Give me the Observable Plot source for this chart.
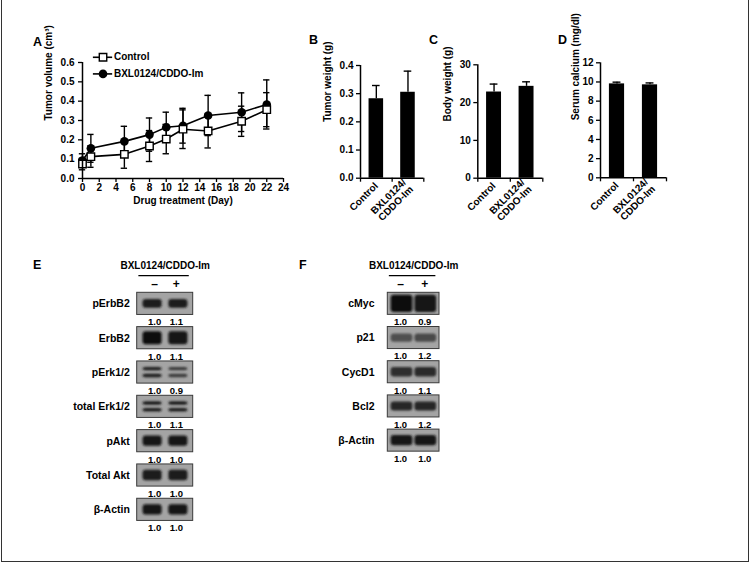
<!DOCTYPE html>
<html><head><meta charset="utf-8">
<script src="https://cdn.jsdelivr.net/npm/d3@7"></script>
<script src="https://cdn.jsdelivr.net/npm/@observablehq/plot@0.6"></script>
<style>
body{margin:0;background:#fff;}
#fig{position:relative;width:750px;height:563px;overflow:hidden;font-family:"Liberation Sans",Arial,sans-serif;font-weight:bold;color:#000;}
#frame{position:absolute;left:1px;top:0;width:748px;height:562px;box-sizing:border-box;border:1px solid #333;border-top:none;}
.panel{position:absolute;}
.letter{position:absolute;font-size:12.5px;line-height:12px;font-weight:bold;}
</style></head><body>
<div id="fig"><div id="frame"></div></div>
<script>
// ---------- data ----------
const days = [0, 1, 5, 8, 10, 12, 15, 19, 22];
const controlVol = [0.075, 0.113, 0.125, 0.168, 0.204, 0.255, 0.246, 0.296, 0.356];
const controlErr = [0.03, 0.055, 0.072, 0.08, 0.076, 0.1, 0.088, 0.078, 0.088];
const treatVol   = [0.093, 0.156, 0.192, 0.227, 0.265, 0.273, 0.326, 0.343, 0.383];
const treatErr   = [0.035, 0.072, 0.078, 0.086, 0.078, 0.09, 0.104, 0.1, 0.127];
const seriesNames = ["Control", "BXL0124/CDDO-Im"];
const volTicks = [0, 0.1, 0.2, 0.3, 0.4, 0.5, 0.6];
const dayTicks = [0, 2, 4, 6, 8, 10, 12, 14, 16, 18, 20, 22, 24];

const groups = ["Control", "BXL0124/\nCDDO-Im"];
const tumorWeight = [0.282, 0.305];
const tumorWeightErr = [0.047, 0.075];
const bodyWeight = [22.8, 24.3];
const bodyWeightErr = [2.1, 1.2];
const serumCalcium = [9.8, 9.7];
const serumCalciumErr = [0.18, 0.2];
const tumorTicks = [0, 0.1, 0.2, 0.3, 0.4];
const bodyTicks = [0, 10, 20, 30];
const calciumTicks = [0, 2, 4, 6, 8, 10, 12];

const treatmentTitle = "BXL0124/CDDO-Im";
const lanes = ["–", "+"];
const blotE = ["pErbB2", "ErbB2", "pErk1/2", "total Erk1/2", "pAkt", "Total Akt", "β-Actin"];
const ratioE = [[1.0, 1.1], [1.0, 1.1], [1.0, 0.9], [1.0, 1.1], [1.0, 1.0], [1.0, 1.0], [1.0, 1.0]];
const blotF = ["cMyc", "p21", "CycD1", "Bcl2", "β-Actin"];
const ratioF = [[1.0, 0.9], [1.0, 1.2], [1.0, 1.1], [1.0, 1.2], [1.0, 1.0]];

// ---------- band appearance (style only) ----------
const lookE = [
  {h: 0.26, fill: ["#1c1c1c", "#1c1c1c"]},
  {h: 0.38, fill: ["#101010", "#121212"]},
  {h: 0.10, gap: 0.10, fill: ["#1e1e1e", "#3a3a3a"]},
  {h: 0.10, gap: 0.10, fill: ["#1e1e1e", "#1e1e1e"]},
  {h: 0.30, fill: ["#161616", "#161616"]},
  {h: 0.30, fill: ["#1a1a1a", "#1a1a1a"]},
  {h: 0.30, fill: ["#141414", "#141414"]}
];
const lookF = [
  {h: 0.50, fill: ["#0e0e0e", "#141414"]},
  {h: 0.24, fill: ["#505050", "#4a4a4a"]},
  {h: 0.28, fill: ["#2e2e2e", "#2a2a2a"]},
  {h: 0.26, fill: ["#262626", "#262626"]},
  {h: 0.30, fill: ["#161616", "#161616"]}
];

const FONT = '"Liberation Sans", Arial, sans-serif';
const baseStyle = {fontFamily: FONT, fontSize: "10px", fontWeight: "bold", color: "#000", background: "transparent", overflow: "visible"};
const fig = document.getElementById("fig");

function place(node, left, top) {
  const d = document.createElement("div");
  d.className = "panel";
  d.style.left = left + "px";
  d.style.top = top + "px";
  d.appendChild(node);
  fig.appendChild(d);
}
function letter(t, x, y) {
  const d = document.createElement("div");
  d.className = "letter";
  d.textContent = t;
  d.style.left = (x - 4) + "px";
  d.style.top = (y - 6) + "px";
  fig.appendChild(d);
}

// ---------- Panel A ----------
(function () {
  const rows = days.flatMap((d, i) => [
    {day: d, v: controlVol[i], e: controlErr[i], s: seriesNames[0]},
    {day: d, v: treatVol[i], e: treatErr[i], s: seriesNames[1]}
  ]);
  const ctrl = rows.filter(r => r.s === seriesNames[0]);
  const trt = rows.filter(r => r.s === seriesNames[1]);
  const legend = seriesNames.map((s, i) => ({s, y: 0.627 - i * 0.086}));
  const p = Plot.plot({
    width: 300, height: 190, marginLeft: 82, marginRight: 17, marginTop: 22, marginBottom: 52,
    style: baseStyle,
    x: {domain: [0, 24]},
    y: {domain: [0, 0.6]},
    marks: [
      Plot.ruleX(rows, {x: "day", y1: d => d.v - d.e, y2: d => d.v + d.e, stroke: "#000", strokeWidth: 1.4}),
      Plot.ruleY(rows, {y: d => d.v + d.e, x1: d => d.day - 0.38, x2: d => d.day + 0.38, stroke: "#000", strokeWidth: 1.4}),
      Plot.ruleY(rows, {y: d => d.v - d.e, x1: d => d.day - 0.38, x2: d => d.day + 0.38, stroke: "#000", strokeWidth: 1.4}),
      Plot.line(rows, {x: "day", y: "v", z: "s", stroke: "#000", strokeWidth: 1.6}),
      Plot.dot(trt, {x: "day", y: "v", symbol: "circle", r: 4.3, fill: "#000"}),
      Plot.dot(ctrl, {x: "day", y: "v", symbol: "square", r: 4.2, fill: "#fff", stroke: "#000", strokeWidth: 1.4}),
      // legend
      Plot.ruleY(legend, {y: "y", x1: 1.3, x2: 3.6, stroke: "#000", strokeWidth: 1.6}),
      Plot.dot(legend.slice(1), {x: 2.45, y: "y", symbol: "circle", r: 4.3, fill: "#000"}),
      Plot.dot(legend.slice(0, 1), {x: 2.45, y: "y", symbol: "square", r: 4.2, fill: "#fff", stroke: "#000", strokeWidth: 1.4}),
      Plot.text(legend, {x: 3.75, y: "y", text: "s", textAnchor: "start", fontSize: 10, fontWeight: "bold"}),
      // axes
      Plot.ruleX([0], {stroke: "#000", strokeWidth: 1.5}),
      Plot.ruleY([0], {stroke: "#000", strokeWidth: 1.5}),
      Plot.axisY({ticks: volTicks, tickFormat: ".1f", tickSize: 4, tickPadding: 4, label: null, strokeWidth: 1.3}),
      Plot.axisX({ticks: dayTicks, tickFormat: "d", tickSize: 4, tickPadding: 1, label: null, strokeWidth: 1.3}),
      Plot.text(["Tumor volume (cm³)"], {frameAnchor: "left", rotate: -90, dx: -34, fontSize: 10, fontWeight: "bold"}),
      Plot.text(["Drug treatment (Day)"], {frameAnchor: "bottom", dy: 25, fontSize: 10, fontWeight: "bold"})
    ]
  });
  place(p, 0, 40);
})();

// ---------- Panels B, C, D ----------
function barPanel(o) {
  const data = o.values.map((v, i) => ({i, v, e: o.errs[i]}));
  return Plot.plot({
    width: o.width, height: o.height, marginLeft: o.ml, marginRight: o.mr, marginTop: o.mt, marginBottom: o.mb,
    style: baseStyle,
    x: {domain: [0, 2]},
    y: {domain: o.domain},
    marks: [
      Plot.rect(data, {x1: d => d.i + 0.27, x2: d => d.i + 0.73, y1: 0, y2: "v", fill: "#000"}),
      Plot.ruleX(data, {x: d => d.i + 0.5, y1: "v", y2: d => d.v + d.e, stroke: "#000", strokeWidth: 1.4}),
      Plot.ruleY(data, {y: d => d.v + d.e, x1: d => d.i + 0.38, x2: d => d.i + 0.62, stroke: "#000", strokeWidth: 1.4}),
      Plot.ruleX([0], {stroke: "#000", strokeWidth: 1.5}),
      Plot.ruleY([0], {stroke: "#000", strokeWidth: 1.5}),
      Plot.axisY({ticks: o.ticks, tickFormat: o.format, tickSize: 4, tickPadding: 3, label: null, strokeWidth: 1.3}),
      Plot.axisX({ticks: [0, 1, 2], tickSize: 4, tickFormat: () => "", label: null, strokeWidth: 1.3}),
      Plot.axisX({ticks: [0.5, 1.5], tickSize: 0, tickPadding: 6, tickRotate: -45, tickFormat: d => groups[Math.floor(d)], label: null}),
      Plot.text([o.ylabel], {frameAnchor: "left", rotate: -90, dx: -o.labelOff, fontSize: 10, fontWeight: "bold"})
    ]
  });
}
place(barPanel({values: tumorWeight, errs: tumorWeightErr, domain: [0, 0.4], ticks: tumorTicks, format: ".1f",
  ylabel: "Tumor weight (g)", labelOff: 33, width: 143, height: 193, ml: 70, mr: 9.7, mt: 25, mb: 55.3}), 290, 40);
place(barPanel({values: bodyWeight, errs: bodyWeightErr, domain: [0, 30], ticks: bodyTicks, format: "d",
  ylabel: "Body weight (g)", labelOff: 29.6, width: 130, height: 193, ml: 57.3, mr: 7.7, mt: 24.3, mb: 55.3}), 420, 40);
place(barPanel({values: serumCalcium, errs: serumCalciumErr, domain: [0, 12], ticks: calciumTicks, format: "d",
  ylabel: "Serum calcium (mg/dl)", labelOff: 25, width: 136, height: 193, ml: 60, mr: 10, mt: 22.3, mb: 55.7}), 540, 40);

// ---------- Panels E, F (western blots) ----------
function blotPanel(o) {
  const n = o.labels.length;
  const BOX = 0.645, NUM = 0.86, TITLE = -0.79, LINE = -0.5, SIGN = -0.25;
  const laneX = [0.55, 1.47];
  const rows = o.labels.map((l, i) => ({i, l}));
  const bands = [];
  o.looks.forEach((lk, i) => {
    lanes.forEach((ln, j) => {
      const offs = lk.gap ? [-lk.gap, lk.gap] : [0];
      offs.forEach(c => bands.push({i, j, c, h: lk.h, fill: lk.fill[j]}));
    });
  });
  const nums = o.ratios.flatMap((r, i) => r.map((v, j) => ({i, j, v})));
  const svg = Plot.plot({
    width: o.width, height: o.height, marginLeft: o.ml, marginRight: o.mr, marginTop: o.mt, marginBottom: o.mb,
    style: baseStyle,
    x: {domain: [0, 2], axis: null},
    y: {domain: [0, n], reverse: true, axis: null},
    color: {type: "identity"},
    marks: [
      Plot.rect(rows, {x1: 0, x2: 2, y1: d => d.i, y2: d => d.i + BOX, fill: "#a4a4a4", stroke: "#3a3a3a", strokeWidth: 1}),
      Plot.rect(bands, {
        x1: d => laneX[d.j] - o.bw / 2, x2: d => laneX[d.j] + o.bw / 2,
        y1: d => d.i + BOX / 2 + d.c - d.h / 2, y2: d => d.i + BOX / 2 + d.c + d.h / 2,
        fill: d => d.fill, rx: 3, ariaDescription: "band"
      }),
      Plot.text(rows, {x: 0, y: d => d.i + BOX / 2, text: "l", textAnchor: "end", dx: -o.labelGap, fontSize: 10.5, fontWeight: "bold"}),
      Plot.text(nums.filter(d => d.j === 0), {x: d => laneX[d.j], y: d => d.i + NUM, dx: o.numDx[0], text: d => d.v.toFixed(1), fontSize: 9.5, fontWeight: "bold"}),
      Plot.text(nums.filter(d => d.j === 1), {x: d => laneX[d.j], y: d => d.i + NUM, dx: o.numDx[1], text: d => d.v.toFixed(1), fontSize: 9.5, fontWeight: "bold"}),
      Plot.text([treatmentTitle], {x: 1, y: TITLE, fontSize: 10, fontWeight: "bold"}),
      Plot.ruleY([LINE], {x1: 0.06, x2: 1.86, stroke: "#000", strokeWidth: 1.3}),
      Plot.text(lanes.slice(0, 1), {x: laneX[0], y: SIGN, dx: o.numDx[0], text: d => d, fontSize: 12, fontWeight: "bold"}),
      Plot.text(lanes.slice(1), {x: laneX[1], y: SIGN, dx: o.numDx[1], text: d => d, fontSize: 12, fontWeight: "bold"})
    ]
  });
  const defs = d3.select(svg).insert("defs", ":first-child");
  defs.append("filter").attr("id", o.id).attr("x", "-20%").attr("y", "-60%").attr("width", "140%").attr("height", "220%")
    .append("feGaussianBlur").attr("stdDeviation", 1.1);
  svg.querySelectorAll('[aria-description="band"]').forEach(g => g.setAttribute("filter", `url(#${o.id})`));
  return svg;
}
place(blotPanel({id: "blurE", labels: blotE, ratios: ratioE, looks: lookE, bw: 0.68, labelGap: 7.4, numDx: [2, -2],
  width: 213, height: 303, ml: 136.7, mr: 20.3, mt: 42.3, mb: 20.4}), 0, 250);
place(blotPanel({id: "blurF", labels: blotF, ratios: ratioF, looks: lookF, bw: 0.84, labelGap: 13.3, numDx: [-1.5, -1],
  width: 209, height: 234, ml: 137.3, mr: 20, mt: 42.3, mb: 20.7}), 250, 250);

// ---------- panel letters ----------
letter("A", 37, 42); letter("B", 313, 40); letter("C", 433, 40); letter("D", 562, 40);
letter("E", 37, 265); letter("F", 303, 265);
</script>
</body></html>
